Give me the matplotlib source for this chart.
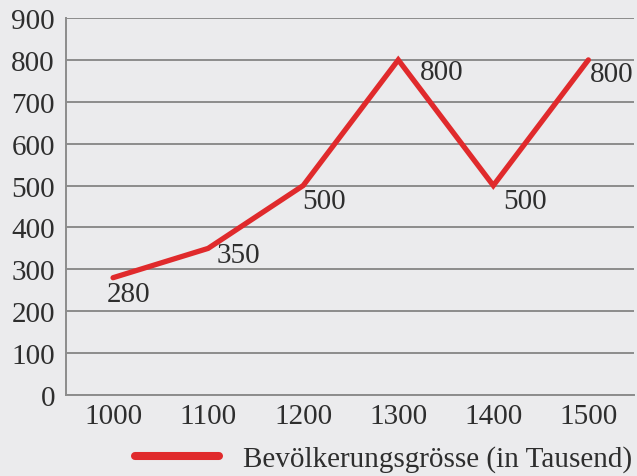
import matplotlib
matplotlib.use("Agg")
import matplotlib.pyplot as plt

years = ["1000", "1100", "1200", "1300", "1400", "1500"]
population = [280, 350, 500, 800, 500, 800]
y_ticks = [0, 100, 200, 300, 400, 500, 600, 700, 800, 900]
series_label = "Bevölkerungsgrösse (in Tausend)"

# label offsets (points) relative to each data point
label_offsets = [(11.5, -12), (22, -5), (15, -11), (31, -9), (23, -11), (17, -10)]

plt.rcParams['font.family'] = ['Liberation Serif', 'DejaVu Serif']

bg = '#ebebed'
txt = '#2e2e2e'
grid_c = '#8c8c8c'
red = '#e02a2c'

fig = plt.figure(figsize=(6.37, 4.77), dpi=100, facecolor=bg)
ax = fig.add_axes([66/637, 1-396/477, (634-66)/637, (396-19)/477])
ax.set_facecolor(bg)

x = list(range(len(years)))
line, = ax.plot(x, population, color=red, linewidth=3.8, solid_capstyle='round',
                solid_joinstyle='miter', label=series_label, zorder=3)

for xi, v, off in zip(x, population, label_offsets):
    ax.annotate(str(v), (xi, v), xytext=off, textcoords='offset points',
                ha='center', va='center', fontsize=21, color=txt, zorder=4)

ax.set_xlim(-0.495, 5.48)
ax.set_ylim(0, 900)
ax.set_yticks(y_ticks)
ax.set_yticklabels([str(t) for t in y_ticks])
ax.set_xticks(x)
ax.set_xticklabels(years)
ax.tick_params(axis='both', length=0, labelsize=21, colors=txt)
ax.tick_params(axis='y', pad=8)
ax.tick_params(axis='x', pad=6)
ax.yaxis.grid(True, color=grid_c, linewidth=1.4)
ax.set_axisbelow(True)
for s in ['top', 'right']:
    ax.spines[s].set_visible(False)
for s in ['left', 'bottom']:
    ax.spines[s].set_color(grid_c)
    ax.spines[s].set_linewidth(1.4)

leg = fig.legend(handles=[line], loc='center', bbox_to_anchor=(384/637, 1-460/477),
                 frameon=False, fontsize=21, handlelength=2.85, handletextpad=0.85,
                 labelcolor=txt, borderpad=0)
leg.get_lines()[0].set_linewidth(5.8)
leg.get_lines()[0].set_solid_capstyle('round')

fig.savefig("out.png", dpi=100, facecolor=bg)
